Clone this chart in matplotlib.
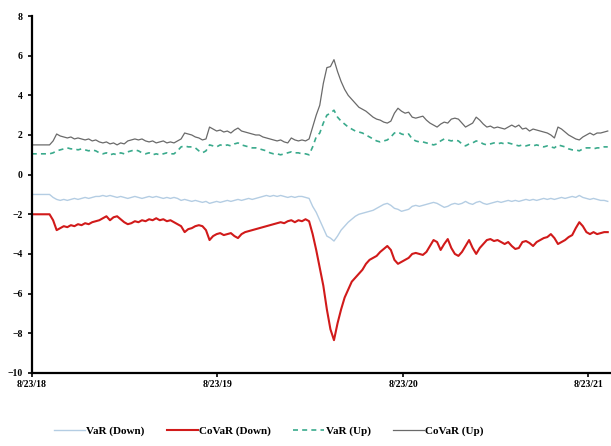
import numpy as np
import matplotlib
matplotlib.use("Agg")
import matplotlib.pyplot as plt
import matplotlib.dates as mdates
import pandas as pd

# weekly readings, starting 8/23/2018
start_date = "2018-08-23"

covar_up = [1.5, 1.5, 1.5, 1.5, 1.5, 1.5, 1.7, 2.05, 1.95, 1.9,
            1.85, 1.9, 1.8, 1.85, 1.8, 1.75, 1.8, 1.7, 1.75, 1.65,
            1.6, 1.65, 1.55, 1.6, 1.5, 1.6, 1.55, 1.7, 1.75, 1.8,
            1.75, 1.8, 1.7, 1.65, 1.7, 1.6, 1.65, 1.7, 1.6, 1.65,
            1.6, 1.7, 1.8, 2.1, 2.05, 2.0, 1.9, 1.85, 1.75, 1.8,
            2.4, 2.3, 2.2, 2.25, 2.15, 2.2, 2.1, 2.25, 2.35, 2.2,
            2.15, 2.1, 2.05, 2.0, 2.0, 1.9, 1.85, 1.8, 1.75, 1.7,
            1.75, 1.65, 1.6, 1.85, 1.75, 1.7, 1.75, 1.7, 1.8, 2.4,
            3.0, 3.5, 4.6, 5.4, 5.45, 5.8, 5.2, 4.7, 4.3, 4.0,
            3.8, 3.6, 3.4, 3.3, 3.2, 3.05, 2.9, 2.8, 2.75, 2.65,
            2.6, 2.7, 3.1, 3.35, 3.2, 3.1, 3.15, 2.9, 2.85, 2.9,
            2.95, 2.75, 2.6, 2.5, 2.4, 2.55, 2.65, 2.6, 2.8, 2.85,
            2.8, 2.6, 2.4, 2.5, 2.6, 2.9, 2.75, 2.55, 2.4, 2.45,
            2.35, 2.4, 2.35, 2.3, 2.4, 2.5, 2.4, 2.5, 2.3, 2.35,
            2.2, 2.3, 2.25, 2.2, 2.15, 2.1, 2.0, 1.85, 2.4, 2.3,
            2.15, 2.0, 1.9, 1.8, 1.75, 1.9, 2.0, 2.1, 2.0, 2.1,
            2.1, 2.15, 2.2]

var_up = [1.05, 1.05, 1.05, 1.05, 1.05, 1.05, 1.1, 1.2, 1.25, 1.3,
          1.35, 1.3, 1.3, 1.25, 1.3, 1.25, 1.2, 1.25, 1.2, 1.1,
          1.05, 1.1, 1.0, 1.05, 1.0, 1.1, 1.05, 1.15, 1.2, 1.25,
          1.2, 1.1, 1.05, 1.1, 1.0, 1.05, 1.0, 1.05, 1.1, 1.05,
          1.05, 1.2, 1.4, 1.45, 1.4, 1.4, 1.35, 1.2, 1.1, 1.2,
          1.5, 1.45, 1.4, 1.5, 1.45, 1.5, 1.45, 1.55, 1.6, 1.5,
          1.45, 1.4, 1.35, 1.35, 1.3, 1.25, 1.2, 1.1, 1.05, 1.05,
          1.0, 1.05, 1.1, 1.15, 1.1, 1.1, 1.05, 1.05, 1.0, 1.4,
          1.9, 2.1, 2.6, 3.0, 3.1, 3.25, 2.9, 2.7, 2.55, 2.4,
          2.3, 2.2, 2.15, 2.1, 2.0, 1.9, 1.8, 1.7, 1.65, 1.7,
          1.75, 1.9, 2.1, 2.15, 2.05, 2.0, 2.05, 1.8, 1.7, 1.65,
          1.65, 1.6, 1.55, 1.5, 1.55, 1.7, 1.8, 1.75, 1.7, 1.75,
          1.7, 1.55, 1.45, 1.55, 1.6, 1.7, 1.65, 1.55, 1.5, 1.55,
          1.6, 1.55, 1.6, 1.55, 1.6, 1.55, 1.5, 1.45, 1.5, 1.45,
          1.5, 1.45, 1.5, 1.45, 1.4, 1.45, 1.4, 1.35, 1.5, 1.45,
          1.4, 1.3, 1.25, 1.25, 1.2, 1.3, 1.35, 1.35, 1.3, 1.35,
          1.35, 1.4, 1.4]

var_down = [-1.0, -1.0, -1.0, -1.0, -1.0, -1.0, -1.15, -1.25, -1.3, -1.25,
            -1.3, -1.25, -1.2, -1.25, -1.2, -1.15, -1.2, -1.15, -1.1, -1.1,
            -1.05, -1.1, -1.05, -1.1, -1.15, -1.1, -1.15, -1.2, -1.15, -1.1,
            -1.15, -1.2, -1.15, -1.1, -1.15, -1.1, -1.15, -1.2, -1.15, -1.2,
            -1.15, -1.2, -1.3, -1.25, -1.3, -1.35, -1.3, -1.35, -1.4, -1.35,
            -1.45, -1.4, -1.35, -1.4, -1.35, -1.3, -1.35, -1.3, -1.25, -1.3,
            -1.25, -1.2, -1.25, -1.2, -1.15, -1.1, -1.05, -1.1, -1.05, -1.1,
            -1.05, -1.1, -1.15, -1.1, -1.15, -1.1, -1.1, -1.15, -1.2, -1.6,
            -1.9, -2.3, -2.7, -3.1, -3.2, -3.35, -3.1, -2.8, -2.6, -2.4,
            -2.25, -2.1, -2.0, -1.95, -1.9, -1.85, -1.8, -1.7, -1.6, -1.5,
            -1.45, -1.55, -1.7, -1.75, -1.85, -1.8, -1.75, -1.6, -1.55, -1.6,
            -1.55, -1.5, -1.45, -1.4, -1.45, -1.55, -1.65, -1.6, -1.5, -1.45,
            -1.5, -1.45, -1.35, -1.45, -1.5, -1.4, -1.35, -1.45, -1.5, -1.45,
            -1.4, -1.35, -1.4, -1.35, -1.3, -1.35, -1.3, -1.35, -1.3, -1.25,
            -1.3, -1.25, -1.3, -1.25, -1.2, -1.25, -1.2, -1.25, -1.2, -1.15,
            -1.2, -1.15, -1.1, -1.15, -1.05, -1.15, -1.2, -1.25, -1.2, -1.25,
            -1.3, -1.3, -1.35]

covar_down = [-2.0, -2.0, -2.0, -2.0, -2.0, -2.0, -2.3, -2.8, -2.7, -2.6,
              -2.65, -2.55, -2.6, -2.5, -2.55, -2.45, -2.5, -2.4, -2.35, -2.3,
              -2.2, -2.1, -2.3, -2.15, -2.1, -2.25, -2.4, -2.5, -2.45, -2.35,
              -2.4, -2.3, -2.35, -2.25, -2.3, -2.2, -2.3, -2.25, -2.35, -2.3,
              -2.4, -2.5, -2.6, -2.9, -2.75, -2.7, -2.6, -2.55, -2.6, -2.8,
              -3.3, -3.1, -3.0, -2.95, -3.05, -3.0, -2.95, -3.1, -3.2, -3.0,
              -2.9, -2.85, -2.8, -2.75, -2.7, -2.65, -2.6, -2.55, -2.5, -2.45,
              -2.4, -2.45, -2.35, -2.3, -2.4, -2.3, -2.35, -2.25, -2.35, -3.0,
              -3.8, -4.7, -5.6, -6.8, -7.8, -8.35, -7.5, -6.8, -6.2, -5.8,
              -5.4, -5.2, -5.0, -4.8, -4.5, -4.3, -4.2, -4.1, -3.9, -3.75,
              -3.6, -3.8, -4.3, -4.5, -4.4, -4.3, -4.2, -4.0, -3.95, -4.0,
              -4.05, -3.9, -3.6, -3.3, -3.4, -3.8, -3.5, -3.25, -3.7, -4.0,
              -4.1, -3.9, -3.6, -3.3, -3.7, -4.0, -3.7, -3.5, -3.3, -3.25,
              -3.35, -3.3, -3.4, -3.5, -3.4, -3.6, -3.75, -3.7, -3.4, -3.35,
              -3.45, -3.6, -3.4, -3.3, -3.2, -3.15, -3.0, -3.2, -3.5, -3.4,
              -3.3, -3.15, -3.05, -2.7, -2.4, -2.6, -2.9, -3.0, -2.9, -3.0,
              -2.95, -2.9, -2.9]

tick_dates = ["2018-08-23", "2019-08-23", "2020-08-23", "2021-08-23"]
tick_labels = ["8/23/18", "8/23/19", "8/23/20", "8/23/21"]
y_ticks = [-10, -8, -6, -4, -2, 0, 2, 4, 6, 8]

plt.rcParams['font.family'] = ['Liberation Serif', 'DejaVu Serif']
plt.rcParams['font.weight'] = 'bold'

dates = pd.date_range(start_date, periods=len(covar_up), freq='7D')

fig = plt.figure(figsize=(6.11, 4.46), dpi=100)
ax = fig.add_axes([0.052, 0.164, 0.946, 0.800])

ax.plot(dates, var_down, color='#b4cde3', lw=1.0, label='VaR (Down)')
ax.plot(dates, covar_down, color='#d11a1a', lw=1.5, label='CoVaR (Down)')
ax.plot(dates, var_up, color='#3aaa8c', lw=1.2, ls=(0, (3, 2.5)), label='VaR (Up)')
ax.plot(dates, covar_up, color='#6a6a6a', lw=0.9, label='CoVaR (Up)')

ax.set_ylim(-10, 8)
ax.set_yticks(y_ticks)
ax.set_xlim(pd.Timestamp("2018-08-23"), pd.Timestamp("2021-10-04"))
ax.set_xticks(pd.to_datetime(tick_dates))
ax.set_xticklabels(tick_labels)

for s in ['top', 'right']:
    ax.spines[s].set_visible(False)
ax.spines['left'].set_linewidth(1.6)
ax.spines['bottom'].set_linewidth(1.6)
ax.tick_params(axis='both', labelsize=7, length=3, width=1.2, direction='out')
ax.tick_params(axis='x', pad=2)

fig.legend(loc='lower center', ncol=4, frameon=False, fontsize=8,
           bbox_to_anchor=(0.44, 0.0), handlelength=2.8, handletextpad=0.1,
           columnspacing=2.0)

fig.savefig("out.png", dpi=100)
